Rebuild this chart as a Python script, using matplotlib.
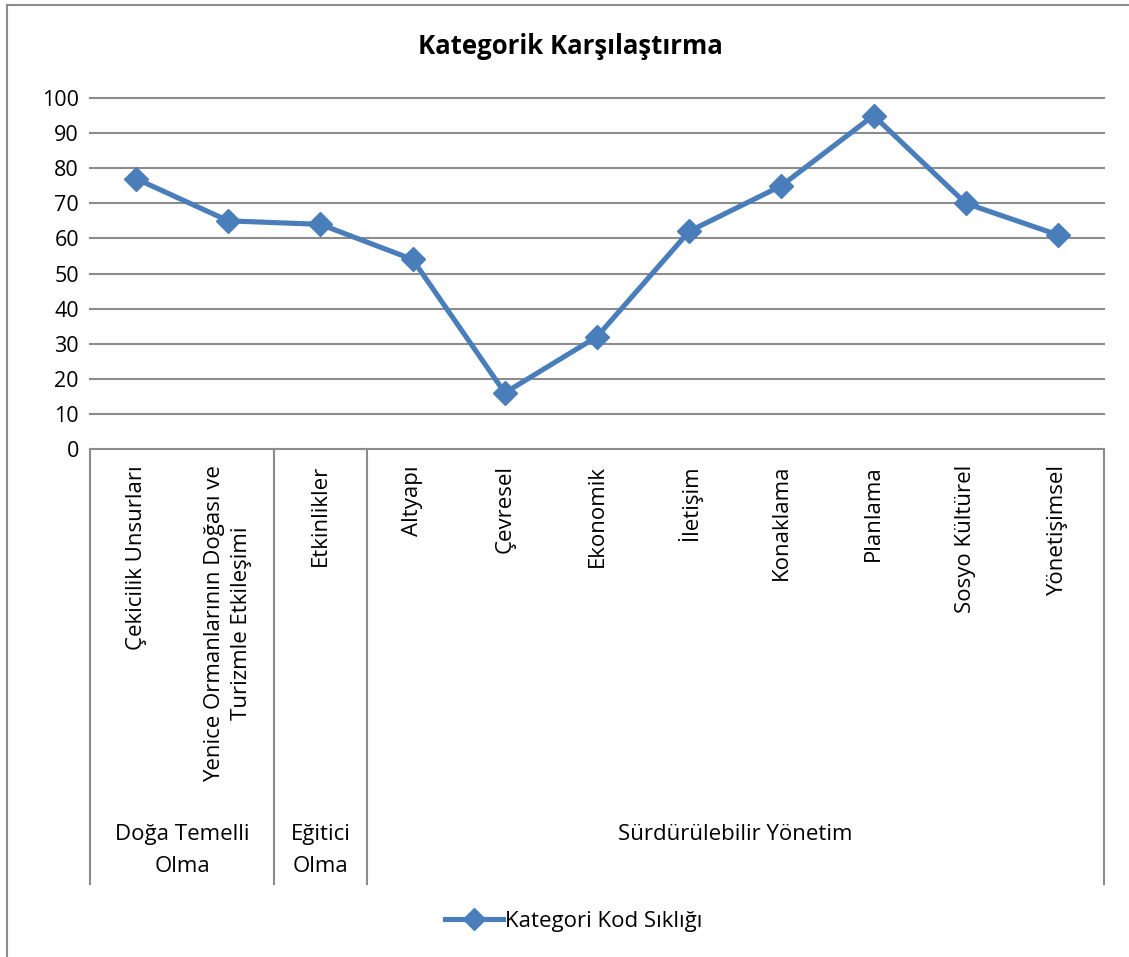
import matplotlib
matplotlib.use("Agg")
from matplotlib import pyplot as plt
from matplotlib import transforms as mtrans
from matplotlib.lines import Line2D

categories = ["Çekicilik Unsurları", "Yenice Ormanlarının Doğası ve\nTurizmle Etkileşimi", "Etkinlikler",
              "Altyapı", "Çevresel", "Ekonomik", "İletişim", "Konaklama", "Planlama",
              "Sosyo Kültürel", "Yönetişimsel"]
values = [77, 65, 64, 54, 16, 32, 62, 75, 95, 70, 61]
groups = ["Doğa Temelli\nOlma", "Eğitici\nOlma", "Sürdürülebilir Yönetim"]
group_sizes = [2, 1, 8]
series_name = "Kategori Kod Sıklığı"
title = "Kategorik Karşılaştırma"
yticks = list(range(0, 101, 10))

plt.rcParams['font.family'] = ['Open Sans', 'DejaVu Sans']
W, H = 1129, 957
fig = plt.figure(figsize=(W / 100, H / 100), dpi=100)

# plot area in pixels
x0, x1, ytop, ybot = 90, 1104, 98, 449
ax = fig.add_axes([x0 / W, 1 - ybot / H, (x1 - x0) / W, (ybot - ytop) / H])

line_col = "#4a7ebb"
grid_col = "#8c8c8c"
ax.plot(range(len(values)), values, color=line_col, lw=3.7, marker="D", ms=12,
        zorder=3, clip_on=False)
ax.set_xlim(-0.5, len(values) - 0.5)
ax.set_ylim(0, 100)
ax.set_yticks(yticks)
for t in yticks:
    ax.axhline(t, color=grid_col, lw=1.5, zorder=1, clip_on=False)
ax.set_xticks([])
ax.tick_params(axis="y", length=0, pad=8, labelsize=15.5)
for s in ax.spines.values():
    s.set_visible(False)

# category + group labels below the axis
tr = mtrans.blended_transform_factory(ax.transData, fig.transFigure)
for i, c in enumerate(categories):
    ax.text(i, 1 - 465 / H, c, transform=tr, rotation=90, ha="center", va="top",
            fontsize=16, multialignment="center", linespacing=1.4)

edges = [-0.5]
for n in group_sizes:
    edges.append(edges[-1] + n)
for e in edges:
    fig.add_artist(Line2D([e, e], [1 - ybot / H, 1 - 884 / H], transform=tr,
                          color=grid_col, lw=1.5))
for g, a, b in zip(groups, edges[:-1], edges[1:]):
    ax.text((a + b) / 2, 1 - 824 / H, g, transform=tr, ha="center", va="top",
            fontsize=16, linespacing=1.7)

fig.text(570 / W, 1 - 47 / H, title, ha="center", va="center", fontsize=18.5, fontweight="bold")

# figure frame (left and top edges are visible in the reference)
fig.add_artist(Line2D([7 / W, 7 / W], [0, 1 - 5 / H], transform=fig.transFigure, color="#8c8c8c", lw=1.5))
fig.add_artist(Line2D([7 / W, 1], [1 - 5 / H, 1 - 5 / H], transform=fig.transFigure, color="#8c8c8c", lw=1.5))

h = Line2D([], [], color=line_col, lw=3.7, marker="D", ms=11)
fig.legend([h], [series_name], loc="center", bbox_to_anchor=(574 / W, 1 - 921 / H),
           frameon=False, fontsize=16, handlelength=2.6, handletextpad=0.1)

fig.savefig("out.png", dpi=100)
